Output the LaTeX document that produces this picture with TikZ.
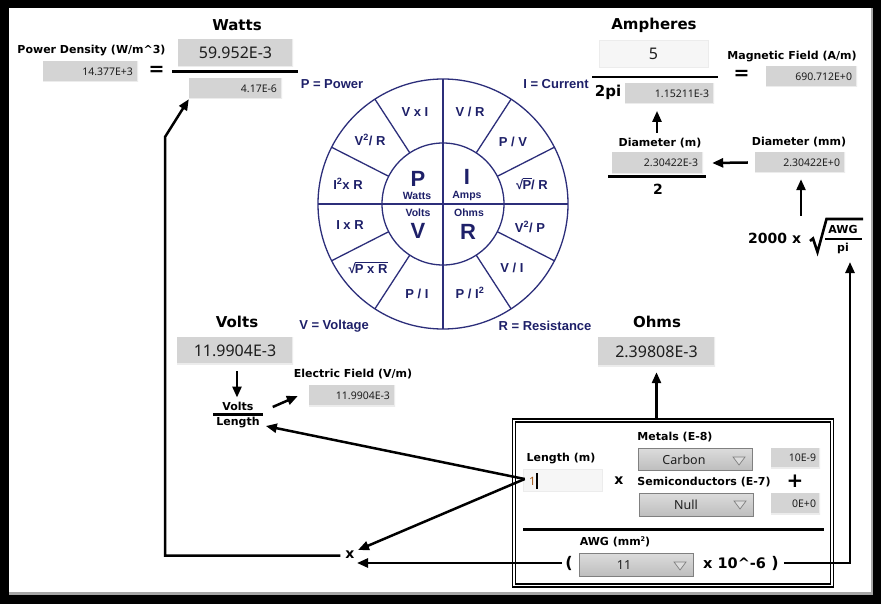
\documentclass[tikz,border=0pt]{standalone}
\usepackage{fontspec}
\usetikzlibrary{arrows.meta,calc,shadings}
\setmainfont{DejaVu Sans}
\newfontfamily\lblf{DejaVu Sans}
\newfontfamily\numf{Noto Sans}
\newfontfamily\arlf{Liberation Sans}
\definecolor{navy}{RGB}{44,46,122}
\definecolor{navytxt}{RGB}{30,32,105}
\definecolor{boxg}{RGB}{212,212,212}
\definecolor{boxedge}{RGB}{236,236,236}
\definecolor{lightb}{RGB}{246,246,246}
\definecolor{ddtop}{RGB}{220,220,220}
\definecolor{ddbot}{RGB}{190,190,190}
\definecolor{ddedge}{RGB}{128,128,128}
\definecolor{numtxt}{RGB}{30,30,30}
\definecolor{cursorc}{RGB}{160,85,20}
\newcommand\wrt[1]{\setbox0\hbox{#1}√\kern-0.8pt\rlap{\raisebox{\dimexpr\ht0+1.1pt\relax}{\rule{\dimexpr\wd0+0.8pt\relax}{0.9pt}}}\box0}
\newcommand\fs[1]{\fontsize{#1}{#1}\selectfont}
\tikzset{
  lab/.style={font=\lblf\bfseries\fs{11}, inner sep=0pt},
  ttl/.style={font=\lblf\bfseries\fs{15}, inner sep=0pt},
  big/.style={font=\lblf\bfseries\fs{14}, inner sep=0pt},
  wl/.style={font=\arlf\bfseries\fs{13}, text=navytxt, inner sep=0pt},
  wbig/.style={font=\arlf\bfseries\fs{22}, text=navytxt, inner sep=0pt},
  wsm/.style={font=\arlf\bfseries\fs{10.5}, text=navytxt, inner sep=0pt},
  nl/.style={font=\arlf\bfseries\fs{13}, text=navytxt, inner sep=0pt},
  snum/.style={font=\numf\fs{10.5}, text=numtxt, inner sep=0pt, anchor=east},
  bnum/.style={font=\numf\fs{16}, text=numtxt, inner sep=0pt},
  ddtxt/.style={font=\numf\fs{12.5}, text=numtxt, inner sep=0pt},
  gbox/.style={fill=boxg, draw=none, inner sep=0pt,
    path picture={\draw[boxedge, line width=1.2pt]
      (path picture bounding box.south west) -- (path picture bounding box.south east)
      -- (path picture bounding box.north east);}},
  wbox/.style={fill=lightb, draw=gray!15, line width=0.6pt, inner sep=0pt},
  ddbox/.style={top color=ddtop, bottom color=ddbot, draw=ddedge, line width=0.8pt, inner sep=0pt},
  fracl/.style={line width=2.6pt},
  arr/.style={line width=2.5pt, -{Triangle[length=11pt,width=9pt]}},
}
\newcommand\bx[6]{\node[#1, minimum width={(#5-#3)*1pt}, minimum height={(#6-#4)*1pt}] (#2) at ({(#3+#5)/2},{(#4+#6)/2}) {};}
\begin{document}
\begin{tikzpicture}[x=1pt,y=-1pt]
% frame
\fill[black] (0,0) rectangle (881,604);
\fill[gray!70] (9,8) rectangle (872.5,594.5);
\fill[white] (9,8) rectangle (870.5,592);
\useasboundingbox (0,0) rectangle (881,604);

% ---------- wheel ----------
\begin{scope}[navy, line width=1.3pt]
  \draw (443,204) circle[radius=125];
  \draw (443,204) circle[radius=61];
  \draw (318,204) -- (568,204);
  \draw (443,79) -- (443,329);
  \foreach \a in {27,57,123,153,-27,-57,-123,-153}
    \draw[shift={(443,204)}] (\a:61) -- (\a:125);
\end{scope}
\node[wl] (w1) at (415,112) {V x I};
\node[wl] (w2) at (470,112) {V / R};
\node[wl] (w3) at (370,140) {V\textsuperscript{2}/ R};
\node[wl] (w4) at (513,142) {P / V};
\node[wl] (w5) at (348,184) {I\textsuperscript{2}x R};
\node[wl] (w6) at (532,184) {\wrt{P} / R};
\node[wl] (w7) at (350,225) {I x R};
\node[wl] (w8) at (530,227) {V\textsuperscript{2}/ P};
\node[wl] (w9) at (368,268) {\wrt{P x R}};
\node[wl] (w10) at (512,268) {V / I};
\node[wl] (w11) at (417,294) {P / I};
\node[wl] (w12) at (470,293) {P / I\textsuperscript{2}};
\node[wbig] (cP) at (418,179) {P};
\node[wsm] (cW) at (417,196) {Watts};
\node[wbig] (cI) at (467,177) {I};
\node[wsm] (cA) at (467,196) {Amps};
\node[wsm] (cVo) at (418,213) {Volts};
\node[wbig] (cV) at (418,231) {V};
\node[wsm] (cO) at (469,213) {Ohms};
\node[wbig] (cR) at (468,232) {R};
\node[nl] (npow) at (332,84) {P = Power};
\node[nl] (ncur) at (556,84) {I = Current};
\node[nl] (nvol) at (334,326) {V = Voltage};
\node[nl] (nres) at (545,326) {R = Resistance};

% ---------- Watts / power density ----------
\node[ttl] (twatts) at (237,25) {Watts};
\node[lab] (lpd) at (91.5,51) {Power Density (W/m\^{}3)};
\bx{gbox}{pd}{43}{61}{138}{82}
\node[snum] (pdt) at ($(pd.east)+(-5,0)$) {14.377E+3};
\node[font=\lblf\bfseries\fs{19}, inner sep=0pt] (eq1) at (156.5,70.5) {=};
\bx{gbox}{wnum}{178}{39}{293}{67}
\node[bnum] (wnumt) at (wnum) {59.952E-3};
\draw[fracl] (172,71.5) -- (298,71.5);
\bx{gbox}{wden}{189}{78}{282}{99}
\node[snum] (wdent) at ($(wden.east)+(-5,0)$) {4.17E-6};

% ---------- Ampheres / magnetic field ----------
\node[ttl] (tamp) at (654,25) {Ampheres};
\bx{wbox}{amp}{599}{40}{708}{67}
\node[bnum] (ampt) at (amp) {5};
\draw[fracl] (592,77) -- (718,77);
\node[font=\lblf\bfseries\fs{15}, inner sep=0pt] (twopi) at (608,92) {2pi};
\bx{gbox}{aden}{625}{83}{714}{104}
\node[snum] (adent) at ($(aden.east)+(-5,0)$) {1.15211E-3};
\node[lab] (lmag) at (792,57) {Magnetic Field (A/m)};
\node[font=\lblf\bfseries\fs{19}, inner sep=0pt] (eq2) at (741.5,74.5) {=};
\bx{gbox}{mag}{766}{66}{857}{87}
\node[snum] (magt) at ($(mag.east)+(-5,0)$) {690.712E+0};

% ---------- diameters ----------
\node[lab] (ldm) at (660,143) {Diameter (m)};
\bx{gbox}{dm}{612}{152}{703}{174}
\node[snum] (dmt) at ($(dm.east)+(-5,0)$) {2.30422E-3};
\draw[fracl] (608,176.5) -- (706,176.5);
\node[big] (two) at (658,189.5) {2};
\node[lab] (ldmm) at (799,142) {Diameter (mm)};
\bx{gbox}{dmm}{755}{152}{845}{173}
\node[snum] (dmmt) at ($(dmm.east)+(-5,0)$) {2.30422E+0};
\node[big, anchor=west] (k2000) at (748,238) {2000 x};
\draw[line width=2.6pt, line join=miter] (810,241) -- (813,238.5) -- (817.5,252) -- (826.5,219) -- (863,219);
\node[lab] (sawg) at (843,229) {AWG};
\draw[line width=2pt] (825,239) -- (862,239);
\node[lab] (spi) at (843,248) {pi};
\coordinate (sqb) at (850,262);

% ---------- Volts / electric field ----------
\node[ttl] (tvolts) at (237,322) {Volts};
\bx{gbox}{vbox}{177}{337}{293}{364}
\node[bnum] (vboxt) at (vbox) {11.9904E-3};
\node[lab] (vl) at (238,406) {Volts};
\draw[fracl] (213,414.5) -- (263,414.5);
\node[lab] (ll) at (238,423) {Length};
\node[lab] (lef) at (353,374) {Electric Field (V/m)};
\bx{gbox}{ef}{309}{385}{395}{406}
\node[snum] (eft) at ($(ef.east)+(-5,0)$) {11.9904E-3};

% ---------- Ohms ----------
\node[ttl] (tohms) at (657,322) {Ohms};
\bx{gbox}{ohms}{598}{337}{715}{366}
\node[bnum] (ohmst) at (ohms) {2.39808E-3};

% ---------- input panel ----------
\node[draw, line width=1.2pt, double, double distance=1.8pt, minimum width=318pt, minimum height=165pt, inner sep=0pt] (panel) at (673,503) {};
\node[lab] (lmet) at (675,437) {Metals (E-8)};
\bx{ddbox}{carb}{638}{448}{752}{470}
\node[ddtxt] (carbt) at (684,459.5) {Carbon};
\draw[ddedge, line width=0.7pt, fill=ddtop] (733,457) -- (745,457) -- (739,465) -- cycle;
\bx{gbox}{c10}{771}{448}{820}{468}
\node[snum] (c10t) at ($(c10.east)+(-4,0)$) {10E-9};
\node[lab] (llen) at (561,459) {Length (m)};
\bx{wbox}{lenin}{523}{469}{602}{491}
\node[font=\numf\fs{11.5}, text=cursorc, inner sep=0pt, anchor=west] (lent) at (529,481) {1};
\draw[line width=1.5pt] (537,473) -- (537,489);
\node[font=\lblf\bfseries\fs{14}, inner sep=0pt] (xm) at (619,481) {x};
\node[lab] (lsemi) at (704,482) {Semiconductors (E-7)};
\node[font=\lblf\bfseries\fs{20}, inner sep=0pt] (plus) at (795,481) {+};
\bx{ddbox}{null}{639}{493}{753}{516}
\node[ddtxt] (nullt) at (686,505) {Null};
\draw[ddedge, line width=0.7pt, fill=ddtop] (734,501) -- (746,501) -- (740,509) -- cycle;
\bx{gbox}{c0}{771}{493}{820}{514}
\node[snum] (c0t) at ($(c0.east)+(-4,0)$) {0E+0};
\draw[line width=2.5pt] (523,529.5) -- (824,529.5);
\node[lab] (lawg) at (615,542) {AWG (mm\raisebox{3.5pt}{\fs{6.5}2})};
\node[font=\lblf\bfseries\fs{16}, inner sep=0pt] (lp) at (569,563) {(};
\bx{ddbox}{awg}{579}{553}{693}{576}
\node[ddtxt] (awgt) at (624,565) {11};
\draw[ddedge, line width=0.7pt, fill=ddtop] (674,562) -- (686,562) -- (680,570) -- cycle;
\node[font=\lblf\bfseries\fs{14.5}, inner sep=0pt, anchor=west] (x106) at (703,563) {x 10\^{}-6};
\node[font=\lblf\bfseries\fs{16}, inner sep=0pt] (rp) at (775,563) {)};

% ---------- connectors ----------
\node[font=\lblf\bfseries\fs{14}, inner sep=0pt] (xn) at (350,555) {x};
\coordinate (ls) at ($(lenin.west)+(2,-1)$);
\draw[arr, line join=miter] ($(xn.west)+(-5,0.5)$) -| (165,137) -- (wden.south west);
\draw[arr] (ls) -- ($(xn)+(8,-5)$);
\draw[arr] (ls) -- ($(ll.east)+(6,3)$);
\draw[arr] ($(lp.west)+(-3,0)$) -- ($(xn)+(7,8)$);
\draw[arr, line join=miter] ($(rp.east)+(5,0)$) -| (sqb);
\draw[arr] ($(k2000.north west)+(53,-17)$) -- ($(dmm.south)+(1,6)$);
\draw[arr] ($(dmm.west)+(-7,0)$) -- ($(dm.east)+(9,0)$);
\draw[arr] ($(ldm.north)+(-3,-5)$) -- ($(ldm.north)+(-3,-27)$);
\draw[arr] ($(vbox.south)+(2,7)$) -- ($(vl.north)+(-1,-4)$);
\draw[arr] ($(vl.east)+(19,1)$) -- ($(ef.west)+(-11,0.5)$);
\draw[arr] (ohms.south |- panel.north) -- ($(ohms.south)+(0,6)$);
\end{tikzpicture}
\end{document}
